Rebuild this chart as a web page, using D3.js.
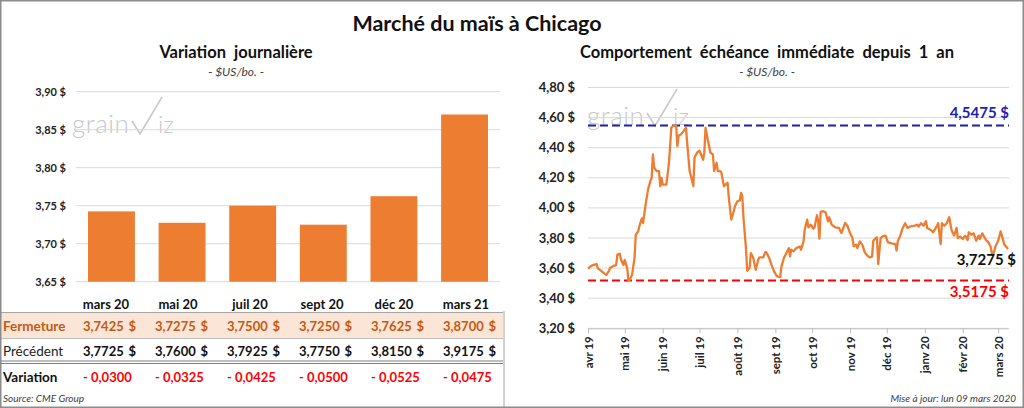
<!DOCTYPE html>
<html>
<head>
<meta charset="utf-8">
<script src="https://cdn.jsdelivr.net/npm/d3@7"></script>
<style>
  body { margin: 0; background: #fff; }
  svg { display: block; font-family: Lato, "Open Sans", sans-serif; }
</style>
</head>
<body>
<div id="container"></div>
<script>

// Daily variation of each contract
const contracts = ["mars 20", "mai 20", "juil 20", "sept 20", "déc 20", "mars 21"];
const closes    = [3.7425, 3.7275, 3.7500, 3.7250, 3.7625, 3.8700];
const previous  = [3.7725, 3.7600, 3.7925, 3.7750, 3.8150, 3.9175];

// Nearby futures, last year
const priceDates = [
  "2019-04-01","2019-04-03","2019-04-05","2019-04-08","2019-04-09","2019-04-12","2019-04-15","2019-04-16",
  "2019-04-18","2019-04-19","2019-04-22","2019-04-24","2019-04-25","2019-04-27","2019-04-28","2019-04-30",
  "2019-05-01","2019-05-03","2019-05-04","2019-05-05","2019-05-07","2019-05-09","2019-05-10","2019-05-12",
  "2019-05-13","2019-05-15","2019-05-16","2019-05-18","2019-05-19","2019-05-20","2019-05-22","2019-05-23",
  "2019-05-24","2019-05-25","2019-05-27","2019-05-29","2019-05-30","2019-05-31",
  "2019-06-01","2019-06-04","2019-06-06","2019-06-07","2019-06-08","2019-06-10","2019-06-12","2019-06-13",
  "2019-06-14","2019-06-16","2019-06-18","2019-06-20","2019-06-21","2019-06-23","2019-06-25","2019-06-26",
  "2019-06-27","2019-06-29",
  "2019-07-01","2019-07-04","2019-07-05","2019-07-06","2019-07-08","2019-07-10","2019-07-12","2019-07-13",
  "2019-07-15","2019-07-16","2019-07-18","2019-07-19","2019-07-21","2019-07-23","2019-07-24","2019-07-25",
  "2019-07-27","2019-07-29","2019-07-30",
  "2019-08-01","2019-08-03","2019-08-04","2019-08-05","2019-08-06","2019-08-08","2019-08-09","2019-08-11",
  "2019-08-12","2019-08-14","2019-08-16","2019-08-18","2019-08-19","2019-08-22","2019-08-24","2019-08-25",
  "2019-08-27","2019-08-29","2019-08-31",
  "2019-09-02","2019-09-03","2019-09-05","2019-09-06","2019-09-08","2019-09-10","2019-09-12","2019-09-13",
  "2019-09-14","2019-09-16","2019-09-18","2019-09-21","2019-09-22","2019-09-24","2019-09-25","2019-09-27",
  "2019-09-28","2019-09-30",
  "2019-10-02","2019-10-03","2019-10-05","2019-10-06","2019-10-07","2019-10-08","2019-10-10","2019-10-12",
  "2019-10-14","2019-10-15","2019-10-17","2019-10-20","2019-10-23","2019-10-25","2019-10-28","2019-10-30",
  "2019-11-01","2019-11-03","2019-11-04","2019-11-06","2019-11-07","2019-11-09","2019-11-11","2019-11-13",
  "2019-11-15","2019-11-17","2019-11-19","2019-11-20","2019-11-22","2019-11-23","2019-11-24","2019-11-26",
  "2019-11-28","2019-11-30",
  "2019-12-02","2019-12-05","2019-12-08","2019-12-09","2019-12-10","2019-12-12","2019-12-14","2019-12-16",
  "2019-12-18","2019-12-20","2019-12-23","2019-12-26","2019-12-27","2019-12-29","2019-12-31",
  "2020-01-02","2020-01-03","2020-01-06","2020-01-08","2020-01-10","2020-01-12","2020-01-14","2020-01-15",
  "2020-01-17","2020-01-19","2020-01-21","2020-01-23","2020-01-25","2020-01-27","2020-01-28","2020-01-30",
  "2020-02-01","2020-02-03","2020-02-05","2020-02-06","2020-02-08","2020-02-10","2020-02-12","2020-02-14",
  "2020-02-15","2020-02-17","2020-02-20","2020-02-22","2020-02-24","2020-02-25","2020-02-26","2020-02-28",
  "2020-03-01","2020-03-03","2020-03-04","2020-03-06","2020-03-09"
];
const priceValues = [
  3.596,3.610,3.620,3.627,3.600,3.580,3.560,3.555,
  3.580,3.600,3.615,3.620,3.690,3.695,3.655,3.620,
  3.655,3.600,3.520,3.520,3.555,3.667,3.820,3.845,
  3.880,3.930,3.900,4.020,4.070,4.120,4.180,4.200,
  4.355,4.270,4.245,4.245,4.145,4.200,
  4.155,4.155,4.290,4.400,4.533,4.5475,4.545,4.410,
  4.480,4.490,4.510,4.533,4.430,4.245,4.180,4.145,
  4.333,4.367,
  4.380,4.320,4.367,4.533,4.444,4.367,4.355,4.245,
  4.300,4.245,4.245,4.233,4.144,4.160,4.167,4.067,
  3.922,3.978,4.011,
  4.044,4.049,4.100,4.078,3.933,3.733,3.582,3.600,
  3.700,3.667,3.589,3.656,3.671,3.671,3.707,3.700,
  3.667,3.618,3.578,
  3.549,3.544,3.540,3.611,3.667,3.700,3.733,3.678,
  3.722,3.711,3.733,3.744,3.722,3.778,3.856,3.922,
  3.871,3.889,
  3.862,3.871,3.951,3.911,3.796,3.973,3.978,3.971,
  3.911,3.938,3.889,3.871,3.867,3.833,3.900,3.878,
  3.833,3.800,3.744,3.756,3.733,3.778,3.756,3.705,
  3.684,3.671,3.676,3.782,3.800,3.804,3.627,3.800,
  3.813,3.816,
  3.771,3.764,3.760,3.716,3.778,3.816,3.867,3.898,
  3.867,3.876,3.880,3.889,3.876,3.898,3.882,
  3.911,3.867,3.853,3.838,3.867,3.898,3.760,3.898,
  3.882,3.898,3.938,3.849,3.816,3.867,3.800,3.809,
  3.793,3.816,3.787,3.838,3.822,3.831,3.782,3.816,
  3.793,3.831,3.787,3.771,3.738,3.689,3.693,3.749,
  3.782,3.844,3.816,3.756,3.7275
];
const yearHigh = 4.5475;
const yearLow = 3.5175;
const lastPrice = 3.7275;

const monthTicks = ["2019-04-01","2019-05-01","2019-06-01","2019-07-01","2019-08-01","2019-09-01",
                    "2019-10-01","2019-11-01","2019-12-01","2020-01-01","2020-02-01","2020-03-01"];
const monthLabels = ["avr 19","mai 19","juin 19","juil 19","août 19","sept 19",
                     "oct 19","nov 19","déc 19","janv 20","févr 20","mars 20"];

const leftTicks = [3.65, 3.70, 3.75, 3.80, 3.85, 3.90];
const rightTicks = [3.20, 3.40, 3.60, 3.80, 4.00, 4.20, 4.40, 4.60, 4.80];

const orange = "#ed7d31";
const grid = "#d9d9d9";

const fr = d3.formatLocale({decimal: ",", thousands: " ", grouping: [3], currency: ["", " $"]});
const money2 = fr.format("$.2f");
const num4 = fr.format(".4f");

const width = 1024, height = 408;
const svg = d3.select("#container").append("svg")
    .attr("width", width)
    .attr("height", height)
    .attr("viewBox", [0, 0, width, height]);

svg.append("rect").attr("width", width).attr("height", height).attr("fill", "#fff");

// titles
svg.append("text").attr("x", 477).attr("y", 31).attr("text-anchor", "middle")
    .attr("font-size", 21.5).attr("font-weight", 700).attr("fill", "#111")
    .text("Marché du maïs à Chicago");

function subtitle(cx, title) {
  svg.append("text").attr("x", cx).attr("y", 58).attr("text-anchor", "middle")
      .attr("font-size", 16.5).attr("font-weight", 700).attr("fill", "#111")
      .attr("xml:space", "preserve").text(title);
  svg.append("text").attr("x", cx).attr("y", 76).attr("text-anchor", "middle")
      .attr("font-size", 12).attr("font-style", "italic").attr("fill", "#404040")
      .text("- $US/bo. -");
}
subtitle(236, "Variation  journalière");
subtitle(767, "Comportement  échéance  immédiate  depuis  1  an");

// grainViz watermark
function watermark(x0, y0) {
  const g = svg.append("g").attr("transform", `translate(${x0},${y0})`).attr("fill", "#c9c9c9");
  g.append("text").attr("x", 0).attr("y", 0).attr("font-size", 26).attr("font-weight", 300)
      .attr("letter-spacing", 0.5).text("grain");
  g.append("path").attr("d", "M60,-12 L68,1 L90,-36")
      .attr("fill", "none").attr("stroke", "#c9c9c9").attr("stroke-width", 1.6);
  g.append("text").attr("x", 86).attr("y", 0).attr("font-size", 24).attr("font-weight", 300)
      .text("iz");
}
watermark(72, 133);
watermark(587, 125);

// ---- left: bar chart ----
const xb = d3.scaleBand().domain(contracts).range([76, 500]).paddingInner(0.336).paddingOuter(0.17);
const yb = d3.scaleLinear().domain([3.65, 3.90]).range([281.7, 91.7]);

svg.append("g").selectAll("line").data(leftTicks).join("line")
    .attr("x1", 76).attr("x2", 500)
    .attr("y1", d => yb(d)).attr("y2", d => yb(d))
    .attr("stroke", grid).attr("stroke-width", 1);

svg.append("g").selectAll("text").data(leftTicks).join("text")
    .attr("x", 66).attr("y", d => yb(d)).attr("dy", "0.35em")
    .attr("text-anchor", "end").attr("font-size", 11).attr("font-weight", 700).attr("fill", "#222")
    .text(d => money2(d));

svg.append("g").selectAll("rect").data(contracts).join("rect")
    .attr("x", d => xb(d))
    .attr("width", xb.bandwidth())
    .attr("y", (d, i) => yb(closes[i]))
    .attr("height", (d, i) => yb(3.65) - yb(closes[i]))
    .attr("fill", orange);

// ---- left: table ----
const xt = d3.scaleBand().domain(contracts).range([71, 503]);

svg.append("rect").attr("x", 0).attr("y", 313).attr("width", 503).attr("height", 25).attr("fill", "#fbe5d6");
svg.append("line").attr("x1", 0).attr("x2", 503).attr("y1", 312.5).attr("y2", 312.5)
    .attr("stroke", "#a6a6a6").attr("stroke-width", 1.2);
svg.append("line").attr("x1", 0).attr("x2", 503).attr("y1", 338.5).attr("y2", 338.5)
    .attr("stroke", "#bfbfbf").attr("stroke-width", 1);
svg.append("line").attr("x1", 0).attr("x2", 503).attr("y1", 361).attr("y2", 361)
    .attr("stroke", "#7f7f7f").attr("stroke-width", 1);
svg.append("line").attr("x1", 0).attr("x2", 503).attr("y1", 363.5).attr("y2", 363.5)
    .attr("stroke", "#7f7f7f").attr("stroke-width", 1);
svg.append("line").attr("x1", 504).attr("x2", 504).attr("y1", 311).attr("y2", 408)
    .attr("stroke", "#a6a6a6").attr("stroke-width", 1);

svg.append("g").selectAll("text").data(contracts).join("text")
    .attr("x", d => xt(d) + xt.bandwidth() / 2 - 1).attr("y", 308.5)
    .attr("text-anchor", "middle").attr("font-size", 13).attr("font-weight", 700).attr("fill", "#111")
    .text(d => d);

function tableRow(label, y, values, opts) {
  svg.append("text").attr("x", 3).attr("y", y).attr("font-size", 13.5)
      .attr("font-weight", opts.labelBold ? 700 : 400).attr("fill", opts.labelColor)
      .text(label);
  const g = svg.append("g");
  g.selectAll("text.v").data(values).join("text").attr("class", "v")
      .attr("x", (d, i) => xt(contracts[i]) + 12).attr("y", y)
      .attr("font-size", 13).attr("font-weight", opts.valueBold ? 700 : 400).attr("fill", opts.valueColor)
      .text(d => opts.fmt(d));
  if (opts.dollar) {
    g.selectAll("text.d").data(values).join("text").attr("class", "d")
        .attr("x", (d, i) => xt(contracts[i]) + 65).attr("y", y).attr("text-anchor", "end")
        .attr("font-size", 13).attr("font-weight", opts.valueBold ? 700 : 400).attr("fill", opts.valueColor)
        .text("$");
  }
}
tableRow("Fermeture", 330.5, closes,
  {labelColor: "#c55a11", labelBold: true, valueColor: "#c55a11", valueBold: true, fmt: num4, dollar: true});
tableRow("Précédent", 355.5, previous,
  {labelColor: "#222", valueColor: "#111", valueBold: true, fmt: num4, dollar: true});
tableRow("Variation", 381.5, closes.map((c, i) => c - previous[i]),
  {labelColor: "#111", labelBold: true, valueColor: "#ff0000", valueBold: true,
   fmt: d => (d < 0 ? "- " : "+ ") + num4(Math.abs(d))});

svg.append("text").attr("x", 3).attr("y", 402).attr("font-size", 10).attr("font-style", "italic")
    .attr("fill", "#404040").text("Source: CME Group");

// ---- right: line chart ----
const parse = d3.utcParse("%Y-%m-%d");
const prices = priceDates.map((d, i) => ({date: parse(d), value: priceValues[i]}));

const x = d3.scaleUtc().domain([parse("2019-04-01"), parse("2020-03-09")]).range([588, 1008]);
const y = d3.scaleLinear().domain([3.2, 4.8]).range([328.3, 87.5]);

svg.append("g").selectAll("line").data(rightTicks).join("line")
    .attr("x1", 588).attr("x2", 1009)
    .attr("y1", d => y(d)).attr("y2", d => y(d))
    .attr("stroke", grid).attr("stroke-width", 1);

svg.append("g").selectAll("text").data(rightTicks).join("text")
    .attr("x", 575).attr("y", d => y(d)).attr("dy", "0.35em")
    .attr("text-anchor", "end").attr("font-size", 13).attr("font-weight", 700).attr("fill", "#222")
    .text(d => money2(d));

const xAxis = svg.append("g")
    .attr("transform", `translate(0,${y(3.2)})`)
    .call(d3.axisBottom(x)
      .tickValues(monthTicks.map(parse))
      .tickFormat((d, i) => monthLabels[i])
      .tickSize(5)
      .tickSizeOuter(0));
xAxis.select(".domain").attr("stroke", "#bfbfbf");
xAxis.selectAll(".tick line").attr("stroke", "#bfbfbf");
xAxis.selectAll(".tick text")
    .attr("font-family", "Lato, sans-serif")
    .attr("font-size", 11.5).attr("font-weight", 700).attr("fill", "#222")
    .attr("transform", "rotate(-90)")
    .attr("text-anchor", "end")
    .attr("x", -8).attr("y", 0).attr("dy", "0.35em");

function refLine(v, color) {
  svg.append("line").attr("x1", 588).attr("x2", 1009)
      .attr("y1", y(v)).attr("y2", y(v))
      .attr("stroke", color).attr("stroke-width", 2.2).attr("stroke-dasharray", "8,4");
}
refLine(yearHigh, "#1f1fb0");
refLine(yearLow, "#ff0000");

svg.append("path").datum(prices)
    .attr("fill", "none").attr("stroke", orange).attr("stroke-width", 2.3)
    .attr("stroke-linejoin", "round")
    .attr("d", d3.line().x(d => x(d.date)).y(d => y(d.value)));

function valueLabel(v, xr, yy, color) {
  svg.append("text").attr("x", xr).attr("y", yy).attr("text-anchor", "end")
      .attr("font-size", 15).attr("font-weight", 700).attr("fill", color)
      .text(num4(v) + " $");
}
valueLabel(yearHigh, 1009, y(yearHigh) - 8, "#1f1fb0");
valueLabel(lastPrice, 1016, 265, "#111");
valueLabel(yearLow, 1009, 297, "#ff0000");

svg.append("text").attr("x", 1016).attr("y", 402).attr("text-anchor", "end")
    .attr("font-size", 10).attr("font-style", "italic").attr("fill", "#404040")
    .text("Mise à jour: lun 09 mars 2020");

// frame
svg.append("rect").attr("x", 0.75).attr("y", 0.75).attr("width", width - 1.5).attr("height", height - 1.5)
    .attr("fill", "none").attr("stroke", "#8c8c8c").attr("stroke-width", 1.5);

</script>
</body>
</html>
